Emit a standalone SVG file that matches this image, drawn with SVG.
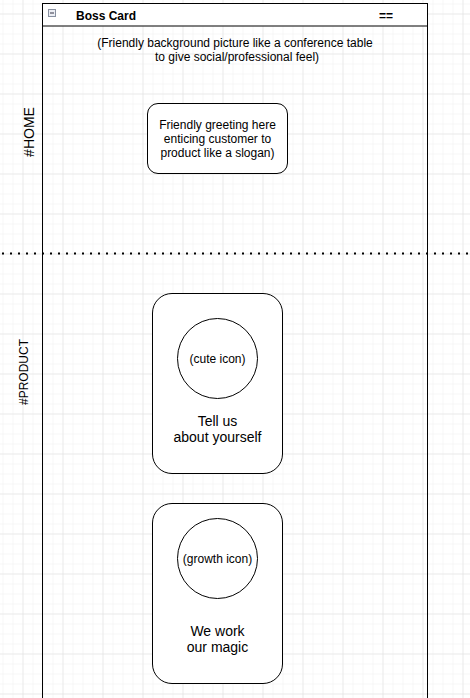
<svg xmlns="http://www.w3.org/2000/svg" width="470" height="698" viewBox="0 0 470 698">
  <defs>
    <pattern id="minor" x="2" y="3" width="10" height="10" patternUnits="userSpaceOnUse">
      <path d="M0 0H10M0 0V10" fill="none" stroke="#f0f0f0" stroke-width="1"/>
    </pattern>
    <pattern id="major" x="22" y="13" width="40" height="40" patternUnits="userSpaceOnUse">
      <path d="M0 0H40M0 0V40" fill="none" stroke="#e0e0e0" stroke-width="1"/>
    </pattern>
  </defs>
  <style>
    .t { font-family: "Liberation Sans", Arial, Helvetica, sans-serif; fill: #000; }
    .box { fill: #fff; stroke: #000; stroke-width: 1; }
    .c { text-anchor: middle; }
  </style>
  <rect width="470" height="698" fill="#fff"/>
  <g transform="translate(0.5 0.5)">
    <rect x="-0.5" y="-0.5" width="471" height="699" fill="url(#minor)"/>
  </g>
  <g transform="translate(0.5 0.5)">
    <rect x="-0.5" y="-0.5" width="471" height="699" fill="url(#major)"/>
  </g>

  <g id="container">
    <path d="M42.5 26V698M427.5 26V698" fill="none" stroke="#000" stroke-width="1"/>
    <rect class="box" x="42.5" y="3.5" width="385" height="22.5"/>
    <rect x="48.5" y="9.5" width="7" height="7" fill="#eceef4" stroke="#8890a0" stroke-width="1"/>
    <path d="M50 13H54" stroke="#334" stroke-width="1"/>
    <text class="t" x="76" y="20" font-size="12" font-weight="bold">Boss Card</text>
    <text class="t" x="379" y="20" font-size="12" font-weight="bold">==</text>
    <text class="t c" x="235" y="47" font-size="12">(Friendly background picture like a conference table</text>
    <text class="t c" x="237" y="61" font-size="12">to give social/professional feel)</text>
  </g>

  <g id="divider">
    <path d="M2 253.5H470" fill="none" stroke="#000" stroke-width="2" stroke-dasharray="2 6"/>
  </g>

  <g id="home-label">
    <text class="t c" transform="translate(34 132) rotate(-90)" font-size="14">#HOME</text>
  </g>
  <g id="product-label">
    <text class="t c" transform="translate(27.5 372) rotate(-90)" font-size="12">#PRODUCT</text>
  </g>

  <g id="greeting">
    <rect class="box" x="147.5" y="103.5" width="140" height="70" rx="10.5" ry="10.5"/>
    <text class="t c" x="217.5" y="129" font-size="12">Friendly greeting here</text>
    <text class="t c" x="217.5" y="143" font-size="12">enticing customer to</text>
    <text class="t c" x="217.5" y="157" font-size="12">product like a slogan)</text>
  </g>

  <g id="card-about">
    <rect class="box" x="152.5" y="293.5" width="130" height="180" rx="19.5" ry="19.5"/>
    <circle class="box" cx="217.5" cy="358.5" r="40"/>
    <text class="t c" x="217.5" y="362.5" font-size="12">(cute icon)</text>
    <text class="t c" x="217.5" y="426" font-size="14">Tell us</text>
    <text class="t c" x="217.5" y="442" font-size="14">about yourself</text>
  </g>

  <g id="card-magic">
    <rect class="box" x="152.5" y="503.5" width="130" height="180" rx="19.5" ry="19.5"/>
    <circle class="box" cx="217.5" cy="558.5" r="40"/>
    <text class="t c" x="217.5" y="562.5" font-size="12">(growth icon)</text>
    <text class="t c" x="217.5" y="636" font-size="14">We work</text>
    <text class="t c" x="217.5" y="652" font-size="14">our magic</text>
  </g>

  <g id="connectors"/>
</svg>
